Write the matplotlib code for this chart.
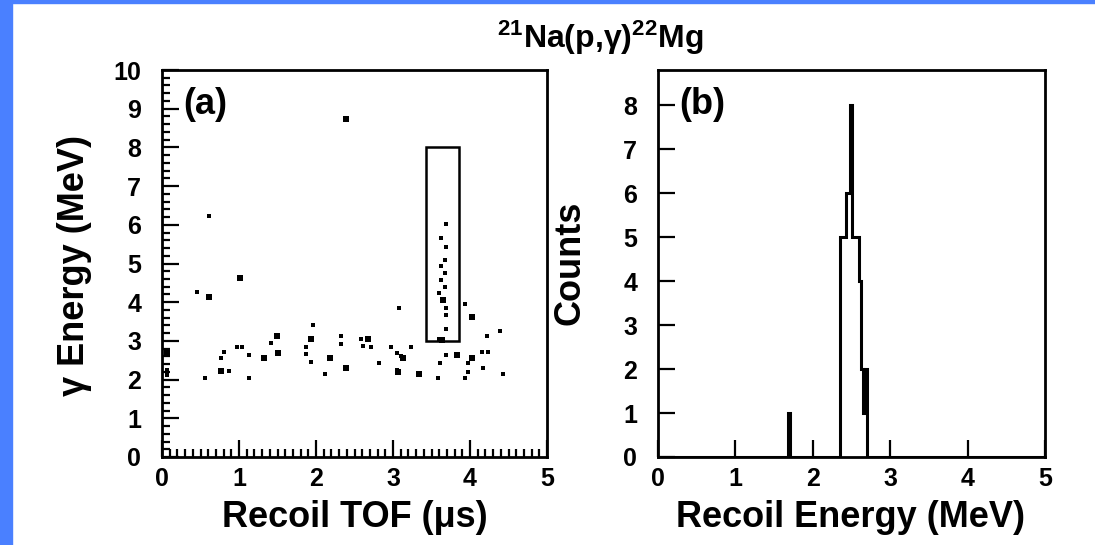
#!/usr/bin/env python3
"""
21Na(p,gamma)22Mg recoil identification: gamma energy vs recoil TOF (a)
and the recoil energy spectrum of the gated events (b).
"""

import numpy as np
import matplotlib
matplotlib.use("Agg")
import matplotlib.pyplot as plt
from matplotlib.patches import Rectangle

plt.rcParams["font.family"] = ["Liberation Sans", "DejaVu Sans"]
plt.rcParams["font.weight"] = "bold"
plt.rcParams["mathtext.fontset"] = "custom"
plt.rcParams["mathtext.rm"] = "Liberation Sans:bold"
plt.rcParams["mathtext.default"] = "rm"

# (a) coincidence events, single hits
tof_single = [0.61, 0.46, 3.69, 3.62, 3.69, 3.67, 3.62, 3.67, 3.62, 3.67,
              3.60, 3.69, 3.69, 3.94, 3.08, 3.69, 3.60, 1.96, 1.42, 2.32,
              2.32, 2.58, 2.61, 2.72, 0.98, 0.81, 0.76, 1.13, 1.87, 1.87,
              1.94, 2.12, 2.82, 2.98, 3.05, 3.24, 3.58, 3.61, 3.69, 3.98,
              3.98, 3.94, 4.15, 4.24, 4.17, 4.22, 4.39, 4.43, 0.56, 0.87,
              1.13, 0.06, 0.06, 3.05, 1.04, 3.10]
egamma_single = [6.23, 4.26, 6.02, 5.65, 5.43, 5.09, 4.93, 4.75, 4.57, 4.40,
                 4.23, 3.84, 3.67, 3.95, 3.84, 3.32, 3.05, 3.41, 2.95, 3.13,
                 2.92, 3.04, 2.87, 2.85, 2.85, 2.72, 2.57, 2.64, 2.85, 2.66,
                 2.46, 2.14, 2.44, 2.85, 2.70, 2.85, 2.03, 2.44, 2.64, 2.44,
                 2.20, 2.03, 2.72, 2.72, 2.29, 3.13, 3.26, 2.14, 2.03, 2.23,
                 2.03, 2.25, 2.12, 2.25, 2.85, 2.60]

# (a) cells holding several events
tof_multi = [2.39, 1.01, 0.61, 4.03, 1.49, 1.51, 1.93, 2.67, 1.32, 2.18,
             2.39, 3.07, 3.34, 3.83, 3.63, 3.65, 0.77, 0.06, 3.13, 4.03]
egamma_multi = [8.73, 4.62, 4.13, 3.63, 3.13, 2.70, 3.04, 3.04, 2.55, 2.55,
                2.29, 2.20, 2.14, 2.64, 3.02, 4.06, 2.23, 2.68, 2.55, 2.55]

# recoil gate drawn in (a)
gate_tof = (3.43, 3.86)
gate_egamma = (3.0, 8.0)

# (b) recoil energy histogram, 0.025 MeV bins
bin_width = 0.025
bin_low = [1.675, 2.350, 2.375, 2.400, 2.425, 2.450, 2.475, 2.500,
           2.525, 2.550, 2.575, 2.600, 2.625, 2.650, 2.675]
bin_counts = [1, 5, 5, 5, 6, 6, 8, 5, 5, 5, 5, 4, 2, 1, 2]


def style_axis(ax):
    for sp in ax.spines.values():
        sp.set_linewidth(2.0)
    ax.tick_params(which="both", direction="in", top=False, right=False,
                   width=1.6, labelsize=18, colors="black")
    ax.tick_params(which="major", length=12)
    ax.tick_params(which="minor", length=6)
    ax.tick_params(axis="x", pad=7)
    ax.tick_params(axis="y", pad=15)
    ax.set_xlim(0, 5)
    ax.set_xticks(range(0, 6))


def main():
    fig = plt.figure(figsize=(10.95, 5.45), dpi=100)

    # blue frame strips (left and top)
    fig.add_artist(Rectangle((0, 0), 12 / 1095, 1, transform=fig.transFigure,
                             color="#4a80ff", zorder=0))
    fig.add_artist(Rectangle((0, 1 - 3 / 545), 1, 3 / 545,
                             transform=fig.transFigure, color="#4a80ff", zorder=0))

    ax1 = fig.add_axes([162 / 1095, 1 - 457 / 545, 385 / 1095, 387 / 545])
    ax2 = fig.add_axes([658 / 1095, 1 - 457 / 545, 387 / 1095, 387 / 545])

    # (a) scatter
    ax1.scatter(tof_single, egamma_single, marker="s", s=6, color="black",
                linewidths=0)
    ax1.scatter(tof_multi, egamma_multi, marker="s", s=22, color="black",
                linewidths=0)
    ax1.add_patch(Rectangle((gate_tof[0], gate_egamma[0]),
                            gate_tof[1] - gate_tof[0],
                            gate_egamma[1] - gate_egamma[0],
                            fill=False, edgecolor="black", linewidth=1.8))
    style_axis(ax1)
    ax1.set_ylim(0, 10)
    ax1.set_yticks(range(0, 11))
    ax1.set_xticks(np.arange(0, 5.01, 0.1), minor=True)
    ax1.set_yticks(np.arange(0, 10.01, 0.2), minor=True)
    ax1.text(0.055, 0.955, "(a)", transform=ax1.transAxes, fontsize=26,
             ha="left", va="top")

    # (b) histogram
    edges = np.round(np.arange(0, 5 + bin_width / 2, bin_width), 4)
    counts = np.zeros(len(edges) - 1)
    for lo, c in zip(bin_low, bin_counts):
        counts[int(round(lo / bin_width))] = c
    ax2.stairs(counts, edges, color="black", linewidth=2.2, baseline=0)
    style_axis(ax2)
    ax2.set_ylim(0, 8.8)
    ax2.set_yticks(range(0, 9))
    ax2.text(0.055, 0.955, "(b)", transform=ax2.transAxes, fontsize=26,
             ha="left", va="top")

    # labels
    fig.text(355 / 1095, 1 - 527 / 545, "Recoil TOF (\u03bcs)", fontsize=26,
             ha="center", va="baseline")
    fig.text(851 / 1095, 1 - 527 / 545, "Recoil Energy (MeV)", fontsize=26,
             ha="center", va="baseline")
    fig.text(75 / 1095, 1 - 265 / 545, "\u03b3 Energy (MeV)", fontsize=26,
             rotation=90, ha="center", va="center")
    fig.text(570 / 1095, 1 - 263 / 545, "Counts", fontsize=26,
             rotation=90, ha="center", va="center")
    fig.text(600 / 1095, 1 - 38 / 545, "$^{21}$Na(p,\u03b3)$^{22}$Mg",
             fontsize=23, ha="center", va="center")

    fig.savefig("out.png", dpi=100, facecolor="white")


if __name__ == "__main__":
    main()
